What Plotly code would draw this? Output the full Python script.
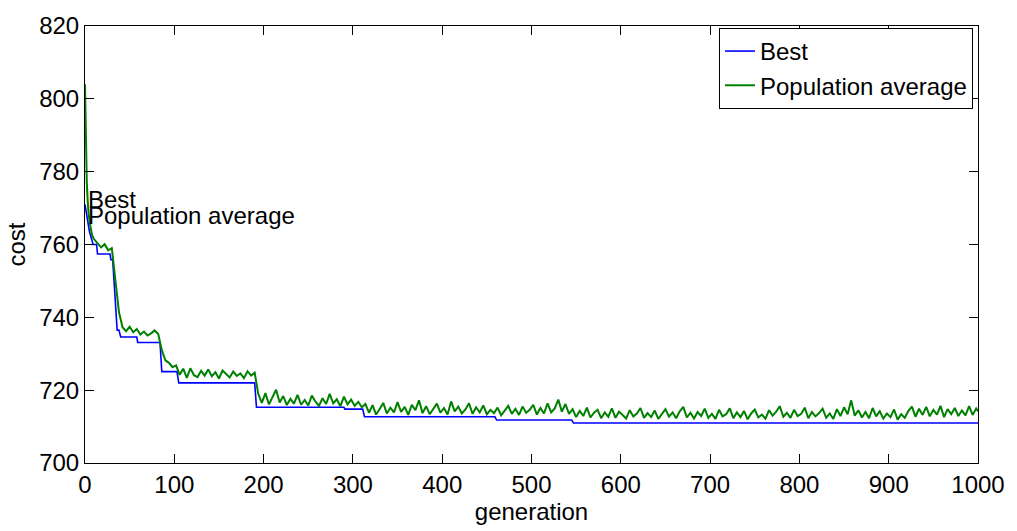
import plotly.graph_objects as go

# ---- data ----
best_gen = [0, 1, 2, 5, 8, 9, 13, 14, 28, 29, 31, 35, 36, 38, 40, 58, 59, 84, 86,
            103, 105, 190, 192, 290, 291, 311, 313, 459, 461, 545, 547, 1000]
best_cost = [771.0, 769.5, 767.5, 763.5, 761.0, 760.0, 760.0, 757.4, 757.4, 755.8,
             755.8, 738.0, 736.5, 736.5, 734.6, 734.6, 733.1, 733.1, 725.1,
             725.1, 722.0, 722.0, 715.3, 715.3, 714.8, 714.8, 712.7, 712.7,
             711.8, 711.8, 711.0, 711.0]

avg_gen_early = [0, 1, 2, 3, 4, 6, 8]
avg_cost_early = [804.0, 789.0, 777.0, 772.0, 768.5, 765.0, 762.5]

# population average from generation 10 to 998, every 4 generations
avg_cost_mid = [
    761.5, 760.4, 759.2, 760.1, 758.4, 759.0, 751.0, 741.5, 737.3, 736.2,  # 10-46
    737.4, 735.9, 736.8, 735.3, 736.1, 735.0, 735.6, 736.4, 735.4, 731.0,  # 50-86
    728.2, 727.5, 726.3, 726.8, 724.2, 725.9, 723.4, 726.0, 724.1, 723.6,  # 90-126
    725.3, 724.0, 725.7, 723.8, 724.9, 723.2, 725.4, 724.4, 723.5, 725.1,  # 130-166
    723.9, 724.6, 723.3, 725.2, 724.0, 724.8, 719.0, 716.5, 719.2, 716.1,  # 170-206
    718.0, 720.1, 716.6, 718.4, 715.9, 717.6, 716.3, 718.7, 716.0, 717.3,  # 210-246
    715.8, 718.5, 716.9, 715.7, 717.8, 716.2, 719.0, 716.4, 717.5, 715.6,  # 250-286
    718.2, 716.1, 717.4, 715.7, 716.8, 715.3, 716.2, 713.8, 715.9, 713.3,  # 290-326
    714.8, 716.5, 713.6, 715.2, 713.9, 716.7, 714.0, 715.4, 713.2, 716.0,  # 330-366
    714.5, 717.2, 713.7, 715.6, 713.4, 714.9, 716.3, 713.8, 715.1, 713.3,  # 370-406
    716.9, 714.2, 715.5, 713.6, 714.7, 716.4, 713.5, 715.3, 713.9, 715.8,  # 410-446
    713.4, 714.6, 713.7, 715.2, 713.1, 714.4, 715.7, 713.5, 714.9, 713.2,  # 450-486
    715.5, 713.8, 714.6, 716.0, 713.3, 715.1, 713.6, 716.4, 713.9, 715.0,  # 490-526
    717.4, 714.1, 716.2, 713.5, 714.8, 712.6, 714.3, 712.9, 715.2, 712.5,  # 530-566
    713.8, 714.6, 712.3, 713.9, 712.7, 715.0, 712.4, 714.1, 713.0, 712.2,  # 570-606
    714.5, 712.8, 713.6, 715.1, 712.4, 713.7, 712.6, 714.4, 712.1, 713.3,  # 610-646
    714.8, 712.7, 713.9, 712.3, 714.2, 715.4, 712.5, 713.8, 712.2, 714.0,  # 650-686
    712.9, 714.9, 712.4, 713.5, 712.1, 714.6, 712.8, 713.4, 715.0, 712.3,  # 690-726
    713.9, 712.6, 714.3, 712.0, 713.6, 714.7, 712.5, 713.3, 712.2, 714.5,  # 730-766
    713.0, 714.1, 715.6, 712.7, 713.8, 712.4, 714.6, 712.9, 713.5, 715.2,  # 770-806
    712.3, 714.0, 712.8, 713.7, 714.9, 712.4, 713.6, 712.1, 714.8, 712.9,  # 810-846
    715.3, 713.4, 717.2, 713.0, 714.5, 712.5, 714.0, 712.3, 715.1, 712.8,  # 850-886
    714.2, 712.2, 713.6, 712.6, 714.7, 711.9, 713.4, 712.4, 714.3, 715.5,  # 890-926
    712.7, 714.9, 713.2, 715.4, 712.8, 714.6, 713.3, 715.7, 712.6, 714.8,  # 930-966
    713.4, 715.1, 712.9, 714.4, 713.1, 715.6, 713.2, 715.0,                # 970-998
]
avg_gen_mid = list(range(10, 10 + 4 * len(avg_cost_mid), 4))

avg_gen_end = [1000]
avg_cost_end = [714.2]

avg_gen = avg_gen_early + avg_gen_mid + avg_gen_end
avg_cost = avg_cost_early + avg_cost_mid + avg_cost_end

x_ticks = [0, 100, 200, 300, 400, 500, 600, 700, 800, 900, 1000]
y_ticks = [700, 720, 740, 760, 780, 800, 820]

FONT = "Liberation Sans, Arial, Helvetica, sans-serif"

fig = go.Figure()
fig.add_trace(go.Scatter(x=best_gen, y=best_cost, mode="lines", name="Best",
                         line=dict(color="#0000FF", width=1.6)))
fig.add_trace(go.Scatter(x=avg_gen, y=avg_cost, mode="lines", name="Population average",
                         line=dict(color="#008000", width=2)))

fig.add_annotation(x=1, y=772.3, text="Best", showarrow=False,
                   xanchor="left", yanchor="middle",
                   font=dict(size=24, color="black", family=FONT))
fig.add_annotation(x=1, y=768.0, text="Population average", showarrow=False,
                   xanchor="left", yanchor="middle",
                   font=dict(size=24, color="black", family=FONT))

axis_common = dict(showline=True, linecolor="black", linewidth=1, mirror="ticks",
                   ticks="inside", ticklen=9, tickcolor="black", tickwidth=1,
                   showgrid=False, zeroline=False,
                   tickfont=dict(size=24, color="black", family=FONT))

fig.update_xaxes(range=[0, 1000], tickvals=x_ticks,
                 title=dict(text="generation", font=dict(size=24, color="black", family=FONT),
                            standoff=4),
                 **axis_common)
fig.update_yaxes(range=[700, 820], tickvals=y_ticks,
                 title=dict(text="cost", font=dict(size=24, color="black", family=FONT),
                            standoff=6),
                 **axis_common)

fig.update_layout(
    width=1017, height=531,
    margin=dict(l=85, r=37, t=19, b=64),
    paper_bgcolor="white", plot_bgcolor="white",
    font=dict(family=FONT, size=24, color="black"),
    legend=dict(x=0.9944, y=0.9955, xanchor="right", yanchor="top",
                bgcolor="white", bordercolor="black", borderwidth=1,
                font=dict(size=24, color="black", family=FONT),
                tracegroupgap=0, itemwidth=30),
    showlegend=True,
)

fig.write_html("out.html")
